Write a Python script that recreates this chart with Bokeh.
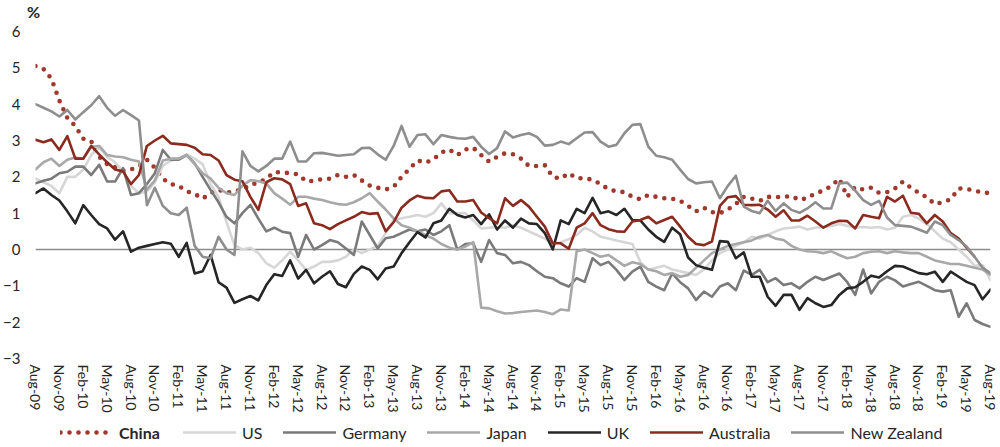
import math
from bokeh.plotting import figure
from bokeh.layouts import column
from bokeh.models import Range1d, FixedTicker, Span, Legend, LegendItem, Div
from bokeh.embed import file_html
from bokeh.resources import INLINE

tick_labels = ["Aug-09", "Nov-09", "Feb-10", "May-10", "Aug-10", "Nov-10", "Feb-11", "May-11",
               "Aug-11", "Nov-11", "Feb-12", "May-12", "Aug-12", "Nov-12", "Feb-13", "May-13",
               "Aug-13", "Nov-13", "Feb-14", "May-14", "Aug-14", "Nov-14", "Feb-15", "May-15",
               "Aug-15", "Nov-15", "Feb-16", "May-16", "Aug-16", "Nov-16", "Feb-17", "May-17",
               "Aug-17", "Nov-17", "Feb-18", "May-18", "Aug-18", "Nov-18", "Feb-19", "May-19",
               "Aug-19"]

china = [5.05, 4.97, 4.70, 4.10, 3.62, 3.40, 3.05, 2.98, 2.55, 2.35,
         2.27, 2.17, 2.20, 2.30, 2.47, 2.25, 1.95, 1.80, 1.75, 1.60,
         1.53, 1.40, 1.55, 1.65, 1.56, 1.60, 1.65, 1.78, 1.84, 1.95,
         2.13, 2.12, 2.10, 2.07, 1.88, 1.89, 1.94, 1.95, 2.05, 2.00,
         2.05, 1.90, 1.76, 1.70, 1.65, 1.72, 2.00, 2.22, 2.45, 2.39,
         2.48, 2.67, 2.75, 2.60, 2.75, 2.80, 2.60, 2.42, 2.55, 2.65,
         2.62, 2.50, 2.30, 2.30, 2.32, 2.00, 1.95, 2.10, 1.96, 1.96,
         1.92, 1.80, 1.66, 1.60, 1.58, 1.45, 1.38, 1.50, 1.45, 1.41,
         1.40, 1.34, 1.20, 1.05, 1.15, 1.03, 1.00, 1.10, 1.25, 1.45,
         1.40, 1.34, 1.45, 1.44, 1.45, 1.47, 1.36, 1.42, 1.55, 1.62,
         1.75, 1.95, 1.45, 1.72, 1.65, 1.70, 1.56, 1.58, 1.68, 1.87,
         1.70, 1.56, 1.44, 1.25, 1.30, 1.38, 1.68, 1.67, 1.62, 1.57, 1.55]

us = [1.95, 1.85, 1.75, 1.55, 2.00, 2.00, 2.20, 2.60, 2.80, 2.55,
      2.40, 2.15, 1.75, 1.55, 1.60, 1.85, 2.30, 2.45, 2.50, 2.62,
      2.50, 2.35, 1.80, 1.45, 0.75, 0.12, 0.00, 0.05, -0.10, -0.38,
      -0.50, -0.30, -0.06, -0.30, -0.56, -0.47, -0.34, -0.34, -0.30, -0.20,
      0.00, -0.10, 0.00, 0.10, 0.45, 0.81, 0.86, 0.90, 0.95, 0.90,
      1.00, 1.27, 1.00, 1.00, 1.00, 0.80, 0.58, 0.60, 0.62, 0.60,
      0.67, 0.60, 0.50, 0.40, 0.30, 0.17, 0.20, 0.28, 0.40, 0.60,
      0.50, 0.35, 0.30, 0.25, 0.20, 0.15, -0.34, -0.56, -0.50, -0.45,
      -0.55, -0.60, -0.65, -0.70, -0.55, -0.30, -0.10, 0.00, 0.10, 0.20,
      0.35, 0.30, 0.40, 0.50, 0.58, 0.60, 0.63, 0.55, 0.60, 0.62,
      0.65, 0.70, 0.65, 0.60, 0.62, 0.60, 0.62, 0.55, 0.60, 0.90,
      0.95, 0.85, 0.70, 0.50, 0.30, 0.20, 0.00, -0.20, -0.45, -0.43, -0.84]

germany = [1.82, 1.89, 1.95, 2.10, 2.14, 2.28, 2.28, 2.05, 2.33, 1.87,
           1.87, 2.24, 1.50, 1.55, 1.80, 2.10, 2.74, 2.47, 2.47, 2.60,
           2.37, 2.00, 1.64, 1.30, 0.90, 0.72, 1.00, 1.23, 0.85, 0.50,
           0.60, 0.49, 0.45, -0.20, 0.40, 0.00, 0.12, 0.26, 0.20, 0.03,
           -0.15, 0.77, 0.40, 0.03, 0.31, 0.35, 0.45, 0.55, 0.50, 0.55,
           0.40, 0.50, 0.67, 0.00, 0.15, 0.17, -0.34, 0.26, -0.10, -0.15,
           -0.38, -0.34, -0.43, -0.60, -0.75, -0.79, -0.93, -1.02, -0.79, -0.89,
           -0.24, -0.43, -0.34, -0.56, -0.84, -0.61, -0.47, -0.89, -1.02, -1.12,
           -0.66, -0.90, -1.07, -1.39, -1.16, -1.30, -1.02, -0.93, -1.12, -0.58,
           -0.70, -0.56, -0.90, -0.79, -0.98, -0.93, -1.07, -0.89, -0.75, -0.84,
           -0.75, -0.66, -0.90, -1.25, -0.55, -1.21, -0.89, -0.75, -0.85, -1.02,
           -0.95, -0.89, -1.00, -1.12, -1.16, -1.12, -1.85, -1.48, -1.94, -2.05, -2.13]

japan = [2.20, 2.40, 2.50, 2.30, 2.47, 2.53, 2.50, 2.83, 2.85, 2.60,
         2.56, 2.54, 2.47, 2.42, 1.65, 1.90, 2.45, 2.50, 2.50, 2.60,
         2.35, 2.10, 1.95, 1.70, 1.55, 1.50, 1.75, 1.91, 1.88, 1.82,
         1.55, 1.40, 1.23, 1.45, 1.45, 1.40, 1.36, 1.30, 1.25, 1.23,
         1.30, 1.41, 1.55, 1.32, 1.10, 0.86, 0.67, 0.60, 0.50, 0.40,
         0.30, 0.15, 0.05, 0.00, 0.08, 0.20, -1.60, -1.62, -1.70, -1.76,
         -1.75, -1.72, -1.70, -1.68, -1.72, -1.78, -1.65, -1.68, -0.05, 0.00,
         -0.10, -0.20, -0.15, -0.30, -0.45, -0.35, -0.40, -0.55, -0.60, -0.70,
         -0.65, -0.75, -0.70, -0.50, -0.30, -0.10, 0.00, 0.10, 0.15, 0.20,
         0.25, 0.35, 0.40, 0.30, 0.26, 0.10, 0.00, -0.05, -0.06, -0.10,
         -0.05, -0.15, -0.24, -0.20, -0.10, -0.06, -0.05, -0.10, -0.05, -0.08,
         -0.10, -0.10, -0.20, -0.30, -0.35, -0.40, -0.40, -0.45, -0.50, -0.55, -0.70]

uk = [1.55, 1.68, 1.50, 1.35, 1.05, 0.72, 1.22, 0.95, 0.70, 0.58,
      0.27, 0.50, -0.06, 0.05, 0.10, 0.15, 0.20, 0.16, -0.20, 0.18,
      -0.66, -0.60, -0.15, -0.90, -1.05, -1.47, -1.37, -1.28, -1.40, -0.98,
      -0.68, -0.73, -0.30, -0.80, -0.56, -0.93, -0.75, -0.60, -0.95, -1.04,
      -0.67, -0.47, -0.56, -0.82, -0.52, -0.47, -0.10, 0.20, 0.48, 0.33,
      0.72, 0.80, 1.12, 0.95, 0.88, 0.95, 0.70, 0.97, 0.55, 0.80,
      0.60, 0.85, 0.72, 0.70, 0.45, 0.00, 0.80, 0.70, 1.12, 1.00,
      1.42, 1.00, 1.05, 0.95, 1.12, 0.81, 0.80, 0.55, 0.35, 0.21,
      0.60, 0.42, -0.22, -0.43, -0.50, -0.56, 0.23, 0.21, -0.24, -0.08,
      -0.75, -0.75, -1.30, -1.55, -1.25, -1.25, -1.66, -1.34, -1.48, -1.58,
      -1.53, -1.25, -1.07, -1.04, -0.89, -0.72, -0.77, -0.60, -0.45, -0.47,
      -0.56, -0.65, -0.68, -0.61, -0.89, -0.61, -0.75, -0.89, -0.98, -1.37, -1.10]

australia = [3.02, 2.95, 3.03, 2.74, 3.12, 2.50, 2.50, 2.85, 2.62, 2.40,
             2.20, 2.15, 1.80, 2.05, 2.85, 3.00, 3.13, 2.92, 2.90, 2.88,
             2.80, 2.62, 2.60, 2.45, 2.05, 1.92, 1.88, 1.45, 1.09, 1.85,
             1.96, 1.93, 1.80, 1.20, 1.27, 0.72, 0.67, 0.56, 0.70, 0.80,
             0.90, 1.03, 0.98, 1.00, 0.50, 0.75, 1.15, 1.35, 1.48, 1.42,
             1.41, 1.60, 1.63, 1.32, 1.32, 1.36, 1.02, 0.86, 0.72, 1.41,
             1.20, 1.36, 1.18, 0.90, 0.63, 0.17, 0.17, 0.02, 0.60, 0.72,
             1.00, 0.67, 0.56, 0.50, 0.49, 0.77, 0.81, 0.90, 0.72, 0.81,
             0.90, 0.63, 0.35, 0.15, 0.12, 0.22, 1.20, 1.44, 1.47, 1.23,
             1.22, 1.23, 1.10, 0.90, 1.08, 0.80, 0.80, 0.93, 0.77, 0.60,
             0.72, 0.79, 0.78, 0.58, 0.95, 0.90, 0.86, 1.45, 1.32, 1.48,
             1.01, 0.98, 0.72, 0.95, 0.77, 0.45, 0.30, 0.05, -0.20]

new_zealand = [4.00, 3.90, 3.80, 3.66, 3.84, 3.58, 3.78, 3.97, 4.22, 3.90,
               3.68, 3.84, 3.70, 3.55, 1.22, 1.70, 1.20, 1.00, 0.95, 1.15,
               0.10, -0.20, -0.24, 0.35, 0.00, -0.15, 2.70, 2.30, 2.15, 2.30,
               2.50, 2.50, 2.97, 2.42, 2.42, 2.65, 2.66, 2.62, 2.58, 2.60,
               2.62, 2.79, 2.80, 2.62, 2.47, 2.85, 3.40, 2.83, 3.15, 3.17,
               2.90, 3.15, 3.10, 3.06, 3.05, 3.10, 2.83, 2.63, 2.79, 3.25,
               3.08, 3.15, 3.20, 3.10, 2.86, 2.88, 2.97, 2.90, 3.06, 3.22,
               3.23, 2.97, 2.83, 2.88, 3.20, 3.43, 3.45, 2.83, 2.58, 2.54,
               2.47, 2.20, 1.94, 1.82, 1.85, 1.87, 1.41, 1.75, 2.03, 1.18,
               1.06, 1.00, 1.34, 1.06, 1.27, 1.09, 1.01, 1.13, 1.30, 1.13,
               1.13, 1.82, 1.84, 1.62, 1.36, 1.23, 1.34, 0.88, 0.67, 0.65,
               0.63, 0.55, 0.46, 0.77, 0.67, 0.40, 0.26, 0.08, -0.20, -0.50, -0.65]

FONT = "Lato"
TEXT = "#262626"

styles = {
    "China": dict(line_color="#A0382C", line_width=4.6, line_dash="0 9", line_cap="round"),
    "US": dict(line_color="#D6D6D6", line_width=2.6, line_join="round", line_cap="round"),
    "Germany": dict(line_color="#7A7A7A", line_width=2.6, line_join="round", line_cap="round"),
    "Japan": dict(line_color="#A8A8A8", line_width=2.6, line_join="round", line_cap="round"),
    "UK": dict(line_color="#262626", line_width=2.6, line_join="round", line_cap="round"),
    "Australia": dict(line_color="#8B2A1E", line_width=2.6, line_join="round", line_cap="round"),
    "New Zealand": dict(line_color="#8E8E8E", line_width=2.6, line_join="round", line_cap="round"),
}
series = [("China", china), ("US", us), ("Germany", germany), ("Japan", japan),
          ("UK", uk), ("Australia", australia), ("New Zealand", new_zealand)]

# header with the unit label
header = Div(text="%", width=1000, height=22, margin=(0, 0, 0, 0),
             styles={"padding-left": "27px", "font-family": FONT, "font-size": "16px",
                     "font-weight": "bold", "line-height": "24px", "color": TEXT})

p = figure(width=1000, height=395, output_backend="svg", toolbar_location=None,
           x_range=Range1d(0, 120), y_range=Range1d(-3, 6),
           min_border_left=34, min_border_right=10, min_border_top=9, min_border_bottom=59)
p.outline_line_color = None
p.xgrid.visible = False
p.ygrid.visible = False

p.add_layout(Span(location=0, dimension="width", line_color="#8C8C8C", line_width=1.5, level="underlay"))

for name, vals in series:
    p.line(list(range(len(vals))), vals, **styles[name])

xa = p.xaxis[0]
xa.ticker = FixedTicker(ticks=list(range(0, 121, 3)))
xa.major_label_overrides = {i * 3: lab for i, lab in enumerate(tick_labels)}
xa.major_label_orientation = "vertical"
xa.axis_line_color = None
xa.major_tick_line_color = None
xa.minor_tick_line_color = None
xa.major_tick_out = 0
xa.major_tick_in = 0
xa.minor_tick_out = 0
xa.minor_tick_in = 0
xa.major_label_standoff = 6
xa.major_label_text_font = FONT
xa.major_label_text_font_size = "14px"
xa.major_label_text_color = TEXT

ya = p.yaxis[0]
ya.ticker = FixedTicker(ticks=list(range(-3, 7)))
ya.axis_line_color = None
ya.major_tick_line_color = None
ya.minor_tick_line_color = None
ya.major_tick_out = 0
ya.major_tick_in = 0
ya.minor_tick_out = 0
ya.minor_tick_in = 0
ya.major_label_standoff = 15
ya.major_label_text_font = FONT
ya.major_label_text_font_size = "15px"
ya.major_label_text_color = TEXT

# legend strip (its sample lines lie outside the visible range)
lf = figure(width=1000, height=30, output_backend="svg", toolbar_location=None,
            x_range=Range1d(0, 1000), y_range=Range1d(0, 30),
            x_axis_type=None, y_axis_type=None,
            min_border_left=0, min_border_right=0, min_border_top=0, min_border_bottom=0)
lf.outline_line_color = None
leg_r = {name: lf.line([-50, -40], [-50, -50], **styles[name]) for name, _ in series}

leg_style = dict(orientation="horizontal", glyph_width=53, glyph_height=20, label_height=20,
                 label_standoff=6, padding=0, margin=0, spacing=21,
                 border_line_color=None, background_fill_alpha=0,
                 label_text_font=FONT, label_text_font_size="16px", label_text_color=TEXT)
leg1 = Legend(items=[LegendItem(label="China", renderers=[leg_r["China"]])],
              location=(25, 5), label_text_font_style="bold", **leg_style)
leg2 = Legend(items=[LegendItem(label=n, renderers=[leg_r[n]]) for n, _ in series[1:]],
              location=(148, 5), **leg_style)
lf.add_layout(leg1)
lf.add_layout(leg2)

open("out.html", "w").write(file_html(column(header, p, lf, spacing=0), INLINE))
